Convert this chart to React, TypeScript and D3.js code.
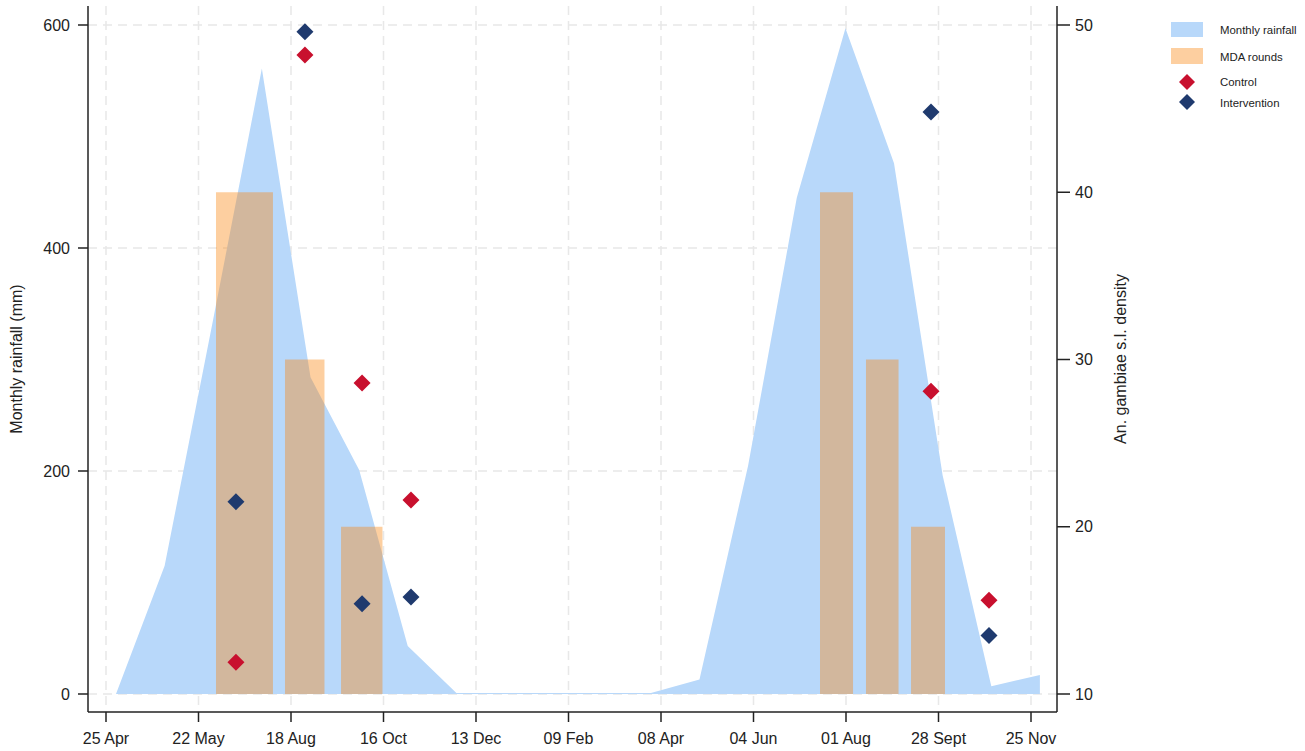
import React from 'react';
import * as d3 from 'd3';

// ---- data ----
const xTickLabels = ['25 Apr', '22 May', '18 Aug', '16 Oct', '13 Dec', '09 Feb', '08 Apr', '04 Jun', '01 Aug', '28 Sept', '25 Nov'];
const leftTicks = [0, 200, 400, 600];
const rightTicks = [10, 20, 30, 40, 50];

// monthly rainfall (position in tick units, value in mm)
const rainPos = [0.108, 0.634, 1.159, 1.685, 2.211, 2.737, 3.262, 3.788, 4.314, 4.839, 5.365, 5.891, 6.416, 6.942, 7.468, 7.994, 8.519, 9.045, 9.571, 10.096];
const rainMm = [0, 115, 336, 561, 284, 201, 43, 1, 1, 1, 1, 1, 13, 205, 445, 597, 476, 196, 7, 17];

// MDA rounds (start, end in tick units; height in mm scale)
const mdaStart = [1.189, 1.935, 2.541, 7.719, 8.216, 8.703];
const mdaEnd = [1.805, 2.362, 2.989, 8.076, 8.568, 9.07];
const mdaHeight = [450, 300, 150, 450, 300, 150];

// An. gambiae s.l. density surveys
const surveyPos = [1.405, 2.151, 2.768, 3.297, 8.919, 9.546];
const controlDensity = [11.9, 48.2, 28.6, 21.6, 28.1, 15.6];
const interventionDensity = [21.5, 49.6, 15.4, 15.8, 44.8, 13.5];

const legendItems = ['Monthly rainfall', 'MDA rounds', 'Control', 'Intervention'];

// ---- styles ----
const FONT = '"Liberation Sans", Arial, sans-serif';
const BLUE = '#b8d8fa';
const ORANGE = 'rgb(250,135,17)';
const ORANGE_OP = 0.4;
const RED = '#c8102e';
const NAVY = '#1f3a6e';
const GRID = '#e8e8e8';
const AXIS = '#222';

const W = 1305;
const H = 751;
const left = 88;
const right = 1057;
const top = 6;
const bottom = 712;

const x = d3.scaleLinear().domain([0, 10]).range([106, 1031]);
const yL = d3.scaleLinear().domain([0, 600]).range([694, 25]);
const yR = d3.scaleLinear().domain([10, 50]).range([694, 25]);

const diamond = (cx: number, cy: number, r = 8.5) =>
  `M${cx},${cy - r}L${cx + r},${cy}L${cx},${cy + r}L${cx - r},${cy}Z`;

export default function App() {
  const rain = rainPos.map((p, i) => ({ p, v: rainMm[i] }));
  const area = d3
    .area<{ p: number; v: number }>()
    .x((d) => x(d.p))
    .y0(yL(0))
    .y1((d) => yL(d.v))(rain) as string;

  const xt = d3.range(xTickLabels.length);

  return (
    <svg
      width={W}
      height={H}
      style={{ position: 'absolute', left: 0, top: 0, background: '#fff' }}
      fontFamily={FONT}
    >
      <rect x={0} y={0} width={W} height={H} fill="#fff" />
      {/* gridlines */}
      {xt.map((i) => (
        <line key={'gx' + i} x1={x(i)} x2={x(i)} y1={top} y2={bottom} stroke={GRID} strokeWidth={1.5} strokeDasharray="9,6" />
      ))}
      {leftTicks.map((t) => (
        <line key={'gy' + t} x1={left} x2={right} y1={yL(t)} y2={yL(t)} stroke={GRID} strokeWidth={1.5} strokeDasharray="9,6" />
      ))}

      {/* rainfall area */}
      <path d={area} fill={BLUE} />

      {/* MDA rounds */}
      {mdaStart.map((s, i) => (
        <rect
          key={'b' + i}
          x={x(s)}
          width={x(mdaEnd[i]) - x(s)}
          y={yL(mdaHeight[i])}
          height={yL(0) - yL(mdaHeight[i])}
          fill={ORANGE}
          fillOpacity={ORANGE_OP}
        />
      ))}

      {/* markers */}
      {surveyPos.map((p, i) => (
        <path key={'c' + i} d={diamond(x(p), yR(controlDensity[i]))} fill={RED} />
      ))}
      {surveyPos.map((p, i) => (
        <path key={'n' + i} d={diamond(x(p), yR(interventionDensity[i]))} fill={NAVY} />
      ))}

      {/* axes */}
      <line x1={left} x2={left} y1={top} y2={bottom} stroke={AXIS} strokeWidth={1.5} />
      <line x1={right} x2={right} y1={top} y2={bottom} stroke={AXIS} strokeWidth={1.5} />
      <line x1={left} x2={right} y1={bottom} y2={bottom} stroke={AXIS} strokeWidth={1.5} />

      {leftTicks.map((t) => (
        <g key={'lt' + t}>
          <line x1={left - 10} x2={left} y1={yL(t)} y2={yL(t)} stroke={AXIS} strokeWidth={1.5} />
          <text x={left - 18} y={yL(t)} textAnchor="end" dominantBaseline="central" fontSize={16} fill="#222">
            {t}
          </text>
        </g>
      ))}
      {rightTicks.map((t) => (
        <g key={'rt' + t}>
          <line x1={right} x2={right + 13} y1={yR(t)} y2={yR(t)} stroke={AXIS} strokeWidth={1.5} />
          <text x={right + 18} y={yR(t)} dominantBaseline="central" fontSize={16} fill="#222">
            {t}
          </text>
        </g>
      ))}
      {xt.map((i) => (
        <g key={'xt' + i}>
          <line x1={x(i)} x2={x(i)} y1={bottom} y2={bottom + 10} stroke={AXIS} strokeWidth={1.5} />
          <text x={x(i)} y={bottom + 32} textAnchor="middle" fontSize={16} fill="#222">
            {xTickLabels[i]}
          </text>
        </g>
      ))}

      {/* axis titles */}
      <text transform={`translate(22,${(top + bottom) / 2}) rotate(-90)`} textAnchor="middle" fontSize={16} fill="#222">
        Monthly rainfall (mm)
      </text>
      <text transform={`translate(1126,${(top + bottom) / 2}) rotate(-90)`} textAnchor="middle" fontSize={16} fill="#222">
        An. gambiae s.l. density
      </text>

      {/* legend */}
      <g fontSize={11.4} fill="#222">
        <rect x={1171} y={22} width={32} height={15} fill={BLUE} />
        <rect x={1171} y={48} width={32} height={16} fill={ORANGE} fillOpacity={ORANGE_OP} />
        <path d={diamond(1187, 82, 8)} fill={RED} />
        <path d={diamond(1187, 102, 8)} fill={NAVY} />
        <text x={1220} y={30} dominantBaseline="central">{legendItems[0]}</text>
        <text x={1220} y={57} dominantBaseline="central">{legendItems[1]}</text>
        <text x={1220} y={82} dominantBaseline="central">{legendItems[2]}</text>
        <text x={1220} y={103} dominantBaseline="central">{legendItems[3]}</text>
      </g>
    </svg>
  );
}
